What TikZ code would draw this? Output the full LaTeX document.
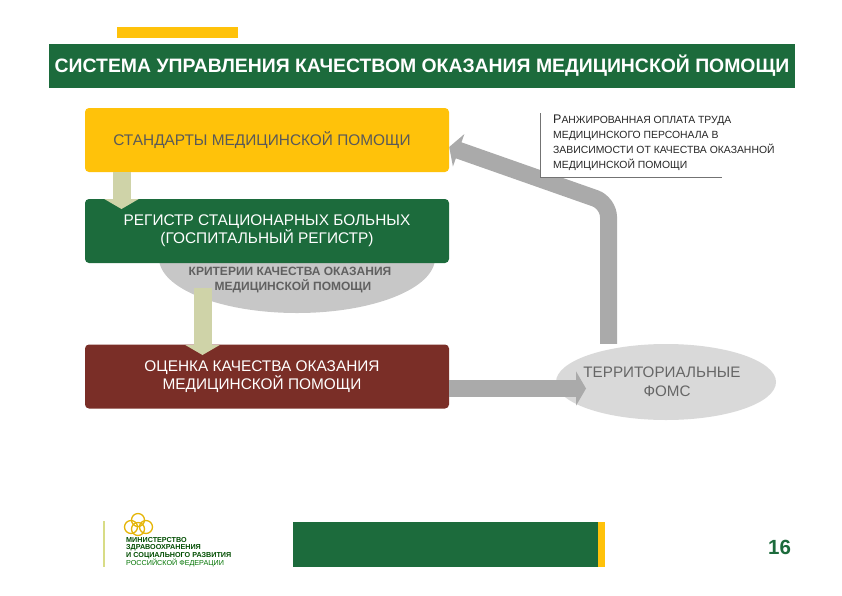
\documentclass[tikz,border=0pt]{standalone}
\usepackage{fontspec}
\setmainfont{Liberation Sans}
\usetikzlibrary{arrows.meta,positioning,shapes.geometric,calc,backgrounds}
\definecolor{mzgreen}{RGB}{28,107,60}
\definecolor{mzyellow}{RGB}{255,194,10}
\definecolor{mzred}{RGB}{122,46,39}
\definecolor{mzbeige}{RGB}{207,211,168}
\definecolor{mzgray}{RGB}{170,170,170}
\definecolor{mzlabel}{RGB}{96,96,96}
\begin{document}
\begin{tikzpicture}[
  x=1pt,y=-1pt,
  box/.style={rounded corners=4pt,minimum width=364pt,minimum height=64pt,inner sep=0pt,
    font=\fontsize{15.4}{18}\selectfont,align=center},
  flat/.style={inner sep=0pt,outer sep=0pt},
  oval/.style={ellipse,inner sep=0pt},
  lbl/.style={font=\fontsize{12}{15}\selectfont\bfseries,text=mzlabel,align=center},
  beigearr/.style={-{Triangle[length=10pt,width=34pt]},line width=18pt,mzbeige},
  grayarr/.style={-{Triangle[length=10pt,width=34pt]},line width=17pt,mzgray},
  logotxt/.style={font=\fontsize{7.2}{7.5}\selectfont\bfseries,anchor=west,inner sep=0pt}
]
  \useasboundingbox (0,0) rectangle (842,595);
  % Header
  \node[flat,fill=mzyellow,minimum width=121pt,minimum height=11pt] (topbar) at (177.5,32.5) {};
  \node[flat,fill=mzgreen,minimum width=746pt,minimum height=44pt,text=white,
    font=\fontsize{19.4}{22}\selectfont\bfseries] (header) at (422,66)
    {СИСТЕМА УПРАВЛЕНИЯ КАЧЕСТВОМ ОКАЗАНИЯ МЕДИЦИНСКОЙ ПОМОЩИ};
  % Ovals
  \node[oval,fill=black!22,minimum width=276pt,minimum height=110pt] (critoval) at (297,258) {};
  \node[lbl] (crit) at (290,279.5) {КРИТЕРИИ КАЧЕСТВА ОКАЗАНИЯ\\\hspace*{6pt}МЕДИЦИНСКОЙ ПОМОЩИ};
  \node[oval,fill=black!15,minimum width=220pt,minimum height=76pt] (fomsoval) at (666,382) {};
  % Boxes
  \node[box,fill=mzyellow,text=black!65] (stds) at (267,140) {\hspace*{-10pt}СТАНДАРТЫ МЕДИЦИНСКОЙ ПОМОЩИ};
  \node[box,fill=mzgreen,text=white] (reg) at (267,231) {РЕГИСТР СТАЦИОНАРНЫХ БОЛЬНЫХ\\(ГОСПИТАЛЬНЫЙ РЕГИСТР)};
  \node[box,fill=mzred,text=white] (eval) at (267,376.5) {\hspace*{-10pt}ОЦЕНКА КАЧЕСТВА ОКАЗАНИЯ\\\hspace*{-10pt}МЕДИЦИНСКОЙ ПОМОЩИ};
  \node[font=\fontsize{15.2}{19}\selectfont,text=black!60,align=center] (foms) at (662,381.5)
    {ТЕРРИТОРИАЛЬНЫЕ\\\hspace*{10pt}ФОМС};
  % Arrows
  \coordinate (critout) at (202.5,288);
  \coordinate (bend) at (608.5,203);
  \begin{scope}[on background layer]
    \draw[grayarr,rounded corners=14pt] (fomsoval.north -| bend) -- (bend) -- ([yshift=-7pt]stds.east);
  \end{scope}
  \draw[beigearr] (stds.south -| 121.5,0) -- (121.5,209);
  \draw[beigearr] (critout) -- (202.5,355);
  \draw[grayarr] ([yshift=-12pt]eval.east) -- (586,388.5);
  % Note
  \node[flat,fill=white,minimum width=182pt,minimum height=64pt] (note) at (631,145) {};
  \node[anchor=west,align=left,inner sep=0pt,font=\fontsize{10.4}{15}\selectfont,text=black!85] (notetxt) at (553,142.5)
    {{\fontsize{12.5}{15}\selectfont Р}АНЖИРОВАННАЯ ОПЛАТА ТРУДА\\МЕДИЦИНСКОГО ПЕРСОНАЛА В\\ЗАВИСИМОСТИ ОТ КАЧЕСТВА ОКАЗАННОЙ\\МЕДИЦИНСКОЙ ПОМОЩИ};
  \draw[black!55,line width=.6pt] (note.north west) -- (note.south west) -- (note.south east);
  % Footer
  \node[flat,fill=mzgreen,minimum width=305pt,minimum height=45pt] (footbar) at (445.5,544.5) {};
  \node[flat,fill=mzyellow,minimum width=7pt,minimum height=45pt,right=0pt of footbar] (footend) {};
  \node[font=\fontsize{20.5}{22}\selectfont\bfseries,text=mzgreen] (pageno) at (779.5,547) {16};
  % Logo
  \draw[mzbeige!80!yellow,line width=2pt] (103.5,521) -- (103.5,567);
  \foreach \cx/\cy in {138/520,131/527,146/527,138/529}
    \draw[mzyellow!80!olive,line width=1.3pt] (\cx,\cy) circle (6.5pt);
  \node[logotxt,text=black!70!green] (logoa) at (126,540.5) {МИНИСТЕРСТВО};
  \node[logotxt,text=black!70!green] (logob) at (126,548) {ЗДРАВООХРАНЕНИЯ};
  \node[logotxt,text=black!70!green] (logoc) at (126,555.5) {И СОЦИАЛЬНОГО РАЗВИТИЯ};
  \node[logotxt,text=black!55!green,font=\fontsize{7.2}{7.5}\selectfont] (logod) at (126,563) {РОССИЙСКОЙ ФЕДЕРАЦИИ};
\end{tikzpicture}
\end{document}
